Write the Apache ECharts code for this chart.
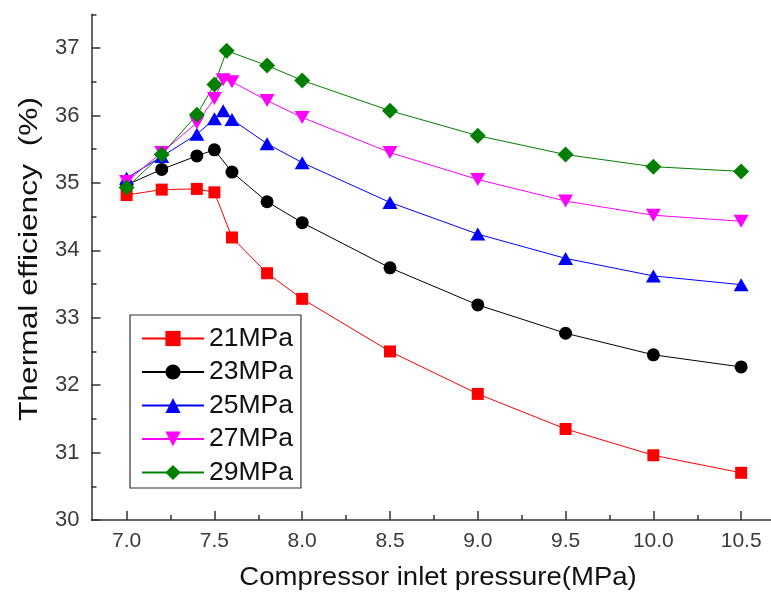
<!DOCTYPE html>
<html>
<head>
<meta charset="utf-8">
<script src="https://cdn.jsdelivr.net/npm/echarts@6/dist/echarts.min.js"></script>
<style>
  html, body { margin: 0; padding: 0; background: #fff; }
  #chart { width: 771px; height: 598px; }
</style>
</head>
<body>
<div id="chart"></div>
<script>
// Compressor inlet pressure (MPa) for each turbine inlet pressure curve
const pressure21 = [7.0, 7.2, 7.4, 7.5, 7.6, 7.8, 8.0, 8.5, 9.0, 9.5, 10.0, 10.5];
const pressure23 = [7.0, 7.2, 7.4, 7.5, 7.6, 7.8, 8.0, 8.5, 9.0, 9.5, 10.0, 10.5];
const pressure25 = [7.0, 7.2, 7.4, 7.5, 7.55, 7.6, 7.8, 8.0, 8.5, 9.0, 9.5, 10.0, 10.5];
const pressure27 = [7.0, 7.2, 7.4, 7.5, 7.55, 7.6, 7.8, 8.0, 8.5, 9.0, 9.5, 10.0, 10.5];
const pressure29 = [7.0, 7.2, 7.4, 7.5, 7.57, 7.8, 8.0, 8.5, 9.0, 9.5, 10.0, 10.5];

// Thermal efficiency (%)
const eff21 = [34.82, 34.90, 34.91, 34.86, 34.19, 33.66, 33.28, 32.50, 31.87, 31.35, 30.96, 30.70];
const eff23 = [34.97, 35.20, 35.40, 35.49, 35.16, 34.72, 34.41, 33.74, 33.19, 32.77, 32.45, 32.27];
const eff25 = [35.07, 35.39, 35.72, 35.95, 36.07, 35.94, 35.58, 35.30, 34.71, 34.24, 33.88, 33.62, 33.49];
const eff27 = [35.02, 35.45, 35.89, 36.25, 36.53, 36.50, 36.22, 35.97, 35.45, 35.05, 34.73, 34.52, 34.43];
const eff29 = [34.93, 35.42, 36.01, 36.46, 36.96, 36.74, 36.52, 36.07, 35.70, 35.42, 35.24, 35.17];

const seriesNames = ['21MPa', '23MPa', '25MPa', '27MPa', '29MPa'];
const seriesColors = ['#ff0000', '#000000', '#0000ff', '#ff00ff', '#008000'];

// Axis ticks and labels
const xMajorTicks = [7.0, 7.5, 8.0, 8.5, 9.0, 9.5, 10.0, 10.5];
const xMinorTicks = [7.25, 7.75, 8.25, 8.75, 9.25, 9.75, 10.25];
const yMajorTicks = [30, 31, 32, 33, 34, 35, 36, 37];
const yMinorTicks = [30.5, 31.5, 32.5, 33.5, 34.5, 35.5, 36.5, 37.5];

const FONT = '"Liberation Sans", Arial, sans-serif';
const AXIS_COLOR = '#333';

function pairs(xs, ys) {
  return xs.map((x, i) => [x, ys[i]]);
}

const xs = [pressure21, pressure23, pressure25, pressure27, pressure29];
const ys = [eff21, eff23, eff25, eff27, eff29];
const symbols = [
  { symbol: 'rect', symbolSize: 12, symbolRotate: 0 },
  { symbol: 'circle', symbolSize: 13, symbolRotate: 0 },
  { symbol: 'triangle', symbolSize: [15, 13], symbolRotate: 0 },
  { symbol: 'triangle', symbolSize: [15, 13], symbolRotate: 180 },
  { symbol: 'diamond', symbolSize: 16, symbolRotate: 0 }
];

const series = seriesNames.map((name, i) => ({
  name: name,
  type: 'line',
  xAxisIndex: 0,
  yAxisIndex: 0,
  data: pairs(xs[i], ys[i]),
  symbol: symbols[i].symbol,
  symbolSize: symbols[i].symbolSize,
  symbolRotate: symbols[i].symbolRotate,
  showAllSymbol: true,
  color: seriesColors[i],
  lineStyle: { width: 1, color: seriesColors[i] },
  itemStyle: { color: seriesColors[i] },
  emphasis: { disabled: true },
  animation: false
}));

const chart = echarts.init(document.getElementById('chart'), null, { renderer: 'canvas' });

const X_MIN = 6.8, X_MAX = 10.67, Y_MIN = 30, Y_MAX = 37.5;

chart.setOption({
  animation: false,
  backgroundColor: '#ffffff',
  grid: {
    left: 91.5, right: 0, top: 14.3, bottom: 78,
    containLabel: false,
    outerBoundsMode: 'none'
  },
  xAxis: [
    {
      type: 'value', min: X_MIN, max: X_MAX, position: 'bottom',
      axisLine: { show: true, onZero: false, lineStyle: { color: AXIS_COLOR, width: 1.5 } },
      axisTick: { show: true, inside: true, length: 9, customValues: xMajorTicks,
                  lineStyle: { color: AXIS_COLOR, width: 1.5 } },
      axisLabel: { show: true, customValues: xMajorTicks, margin: 11,
                   formatter: v => v.toFixed(1),
                   fontFamily: FONT, fontSize: 21, color: '#3a3a3a' },
      splitLine: { show: false }
    },
    {
      type: 'value', min: X_MIN, max: X_MAX, position: 'bottom',
      axisLine: { show: false, onZero: false },
      axisTick: { show: true, inside: true, length: 5, customValues: xMinorTicks,
                  lineStyle: { color: AXIS_COLOR, width: 1.5 } },
      axisLabel: { show: false },
      splitLine: { show: false }
    }
  ],
  yAxis: [
    {
      type: 'value', min: Y_MIN, max: Y_MAX, position: 'left',
      axisLine: { show: true, onZero: false, lineStyle: { color: AXIS_COLOR, width: 1.5 } },
      axisTick: { show: true, inside: true, length: 9, customValues: yMajorTicks,
                  lineStyle: { color: AXIS_COLOR, width: 1.5 } },
      axisLabel: { show: true, customValues: yMajorTicks, margin: 12,
                   fontFamily: FONT, fontSize: 22, color: '#3a3a3a' },
      splitLine: { show: false }
    },
    {
      type: 'value', min: Y_MIN, max: Y_MAX, position: 'left',
      axisLine: { show: false, onZero: false },
      axisTick: { show: true, inside: true, length: 5, customValues: yMinorTicks,
                  lineStyle: { color: AXIS_COLOR, width: 1.5 } },
      axisLabel: { show: false },
      splitLine: { show: false }
    }
  ],
  legend: {
    orient: 'vertical',
    left: 130, top: 315,
    data: seriesNames,
    backgroundColor: '#ffffff',
    borderColor: '#333',
    borderWidth: 1.2,
    borderRadius: 0,
    padding: [10, 8, 2, 11],
    itemWidth: 62,
    itemHeight: 19,
    itemGap: 6.5,
    selectedMode: false,
    textStyle: { fontFamily: FONT, fontSize: 26.5, color: '#111', lineHeight: 25 }
  },
  graphic: [
    {
      type: 'text', x: 438, y: 578, scaleX: 1.1,
      style: { text: 'Compressor inlet pressure(MPa)', fontFamily: FONT, fontSize: 25,
               fill: '#111', align: 'center', verticalAlign: 'middle' }
    },
    {
      type: 'text', x: 30, y: 259, rotation: Math.PI / 2, scaleX: 1.27,
      style: { text: 'Thermal efficiency  (%)', fontFamily: FONT, fontSize: 25,
               fill: '#111', align: 'center', verticalAlign: 'middle' }
    }
  ],
  series: series
});
</script>
</body>
</html>
